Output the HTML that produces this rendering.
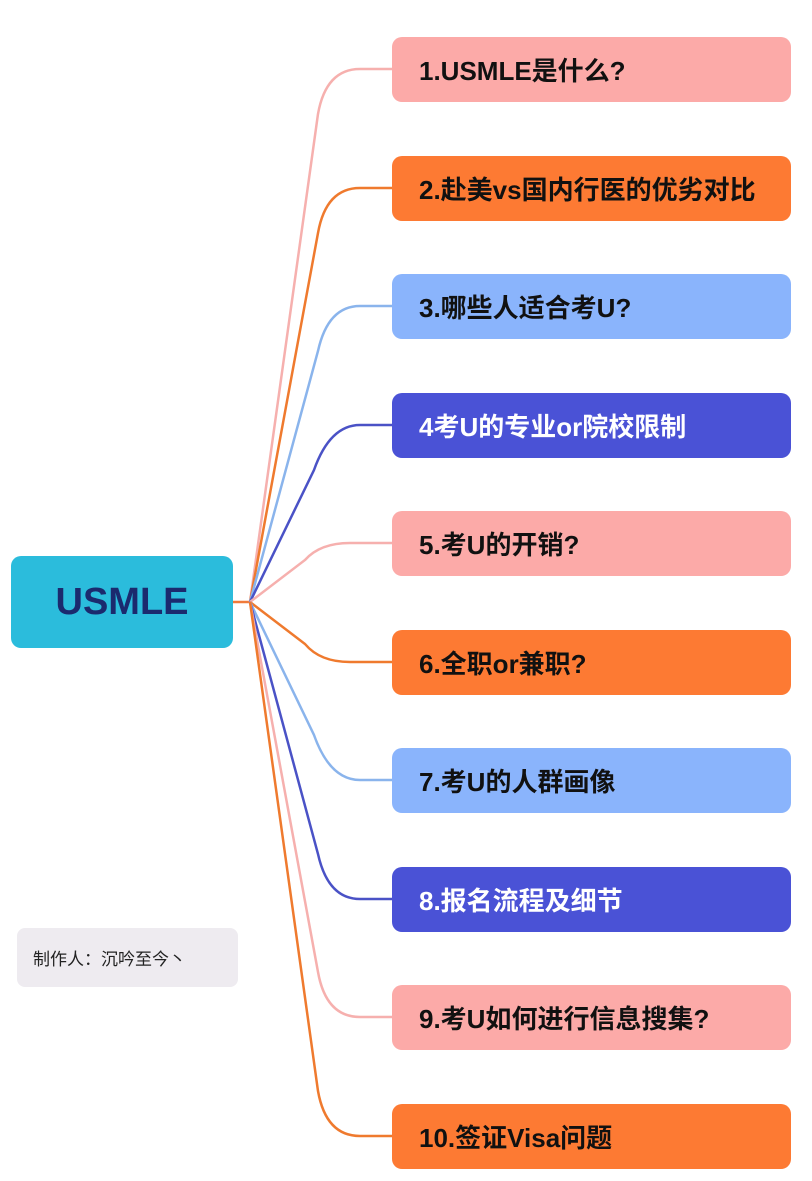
<!DOCTYPE html>
<html><head><meta charset="utf-8"><style>
html,body{margin:0;padding:0;background:#fff;}
body{width:812px;height:1181px;position:relative;overflow:hidden;font-family:"Liberation Sans","Noto Sans CJK SC",sans-serif;}
.n{position:absolute;left:392px;width:399px;height:65px;border-radius:10px;box-sizing:border-box;padding-left:27px;display:flex;align-items:center;font-size:26px;font-weight:bold;color:#111;}
.p{background:#fcaaa8}.o{background:#fd7a33}.b{background:#8ab4fc}.i{background:#4a52d6;color:#fff}
#root{position:absolute;left:11px;top:556px;width:222px;height:92px;border-radius:10px;background:#2bbcdc;color:#1b2a6e;font-size:38px;font-weight:bold;display:flex;align-items:center;justify-content:center;}
#cr{position:absolute;left:17px;top:928px;width:221px;height:59px;border-radius:8px;background:#eeebf0;font-size:17px;display:flex;align-items:center;padding-left:16px;box-sizing:border-box;color:#222;}
svg{position:absolute;left:0;top:0}
</style></head><body>
<svg width="812" height="1181" fill="none" stroke-width="2.5">
<line x1="233" y1="602" x2="250" y2="602" stroke="#f07a3a"/>
<path d="M250 602 L318 114 Q326 69 360 69 H392" stroke="#f6b0ae"/>
<path d="M250 602 L318 233 Q326 188 360 188 H392" stroke="#ef7a2e"/>
<path d="M250 602 L318 351 Q328 306 360 306 H392" stroke="#8ab4ec"/>
<path d="M250 602 L314 470 Q330 425 360 425 H392" stroke="#4a52c6"/>
<path d="M250 602 L305 560 Q320 543 350 543 H392" stroke="#f6b0ae"/>
<path d="M250 602 L305 644 Q320 662 350 662 H392" stroke="#ef7a2e"/>
<path d="M250 602 L314 735 Q330 780 360 780 H392" stroke="#8ab4ec"/>
<path d="M250 602 L318 854 Q328 899 360 899 H392" stroke="#4a52c6"/>
<path d="M250 602 L318 972 Q326 1017 360 1017 H392" stroke="#f6b0ae"/>
<path d="M250 602 L318 1091 Q326 1136 360 1136 H392" stroke="#ef7a2e"/>
</svg>
<div id="root">USMLE</div>
<div id="cr">制作人：沉吟至今丶</div>
<div class="n p" style="top:37px">1.USMLE是什么?</div>
<div class="n o" style="top:156px">2.赴美vs国内行医的优劣对比</div>
<div class="n b" style="top:274px">3.哪些人适合考U?</div>
<div class="n i" style="top:393px">4考U的专业or院校限制</div>
<div class="n p" style="top:511px">5.考U的开销?</div>
<div class="n o" style="top:630px">6.全职or兼职?</div>
<div class="n b" style="top:748px">7.考U的人群画像</div>
<div class="n i" style="top:867px">8.报名流程及细节</div>
<div class="n p" style="top:985px">9.考U如何进行信息搜集?</div>
<div class="n o" style="top:1104px">10.签证Visa问题</div>
</body></html>
